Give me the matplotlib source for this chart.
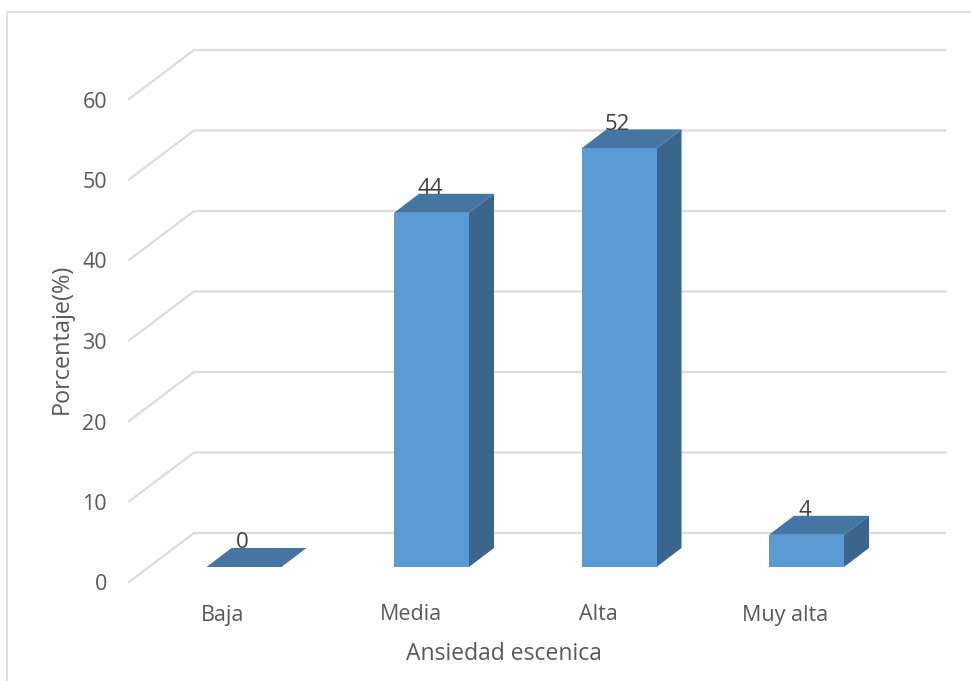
import matplotlib
matplotlib.use('Agg')
import matplotlib.pyplot as plt
from matplotlib.patches import Polygon

# Values
categories = ['Baja', 'Media', 'Alta', 'Muy alta']
values = [0, 44, 52, 4]
y_ticks = [0, 10, 20, 30, 40, 50, 60]

plt.rcParams['font.family'] = ['Open Sans', 'DejaVu Sans']

W, H = 971, 681
X0_PX, X_STEP = 244, 187.5     # pixel of category 0, pixels per category
Y0_PX, Y_STEP = 567, 8.05      # pixel of value 0, pixels per unit

fig = plt.figure(figsize=(W / 100, H / 100), dpi=100)
ax = fig.add_axes([0, 0, 1, 1])
ax.set_xlim(-X0_PX / X_STEP, (W - X0_PX) / X_STEP)
ax.set_ylim((Y0_PX - H) / Y_STEP, Y0_PX / Y_STEP)
ax.axis('off')


# helpers to turn pixel offsets into data offsets
def dx(px):
    return px / X_STEP


def dy(px):
    return px / Y_STEP


grid_color = '#dcdcdc'
text_color = '#595959'

# chart frame, runs off the right and bottom of the image
frame_x = [dx(7 - X0_PX), dx(7 - X0_PX), dx(W - X0_PX)]
frame_y = [dy(Y0_PX - H), dy(Y0_PX - 12), dy(Y0_PX - 12)]
ax.plot(frame_x, frame_y, color=grid_color, lw=1.2)

# gridlines: slanted part on the side wall, then flat on the back wall
for t in y_ticks:
    ax.plot([dx(129 - X0_PX), dx(194 - X0_PX), dx(945 - X0_PX)],
            [t - dy(15), t + dy(34), t + dy(34)],
            color=grid_color, lw=1.6, zorder=1)
    ax.text(dx(107 - X0_PX), t - dy(18), str(t), color=text_color, fontsize=15.5,
            ha='right', va='center')

# 3D bars
half = dx(37.5)
depth_x, depth_y = dx(25), dy(19)
for i, (cat, v) in enumerate(zip(categories, values)):
    left, right = i - half, i + half
    ax.add_patch(Polygon([(right, 0), (right + depth_x, depth_y),
                          (right + depth_x, v + depth_y), (right, v)],
                         color='#3a658c', lw=0, zorder=2))
    ax.add_patch(Polygon([(left, v), (right, v), (right + depth_x, v + depth_y),
                          (left + depth_x, v + depth_y)],
                         color='#4475a3', lw=0, zorder=2))
    ax.add_patch(Polygon([(left, 0), (right, 0), (right, v), (left, v)],
                         color='#5b9bd5', lw=0, zorder=3))
    ax.text(i - dx(1.5), v + dy(24), str(v), color='#404040', fontsize=16,
            ha='center', va='center', zorder=4)
    ax.text(i - dx(21), dy(-48), cat, color=text_color, fontsize=15.5,
            ha='center', va='center')

ax.text(dx(504 - X0_PX), dy(-87), 'Ansiedad escenica', color=text_color, fontsize=16.5,
        ha='center', va='center')
ax.text(dx(62 - X0_PX), dy(Y0_PX - 338.5), 'Porcentaje(%)', color=text_color, fontsize=16.9,
        rotation=90, ha='center', va='center')

fig.savefig('out.png', dpi=100)
